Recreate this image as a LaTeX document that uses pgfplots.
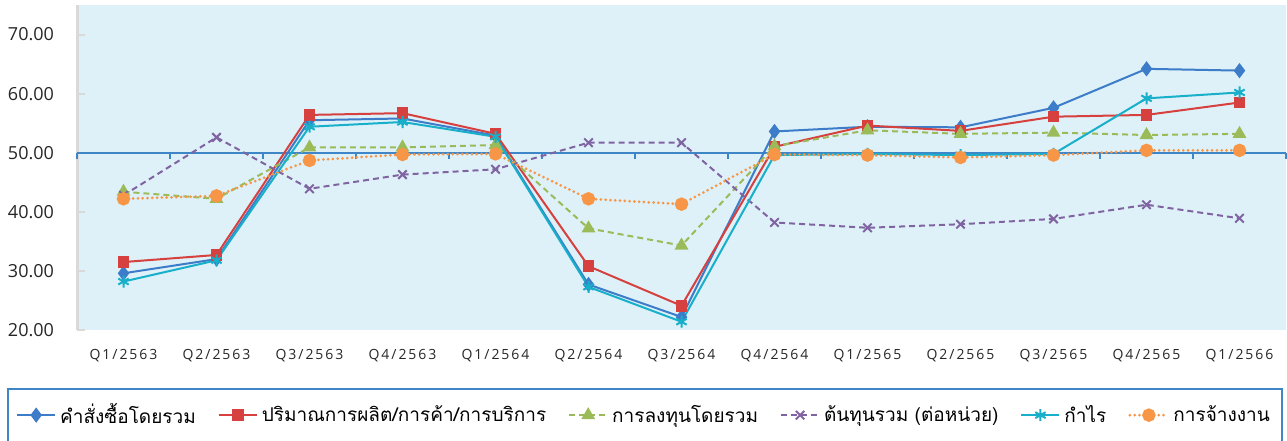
\documentclass[border=0pt]{standalone}
\usepackage{pgfplots}
\pgfplotsset{compat=1.18}
\usepackage{fontspec}
\setmainfont{Open Sans}
\newfontfamily\thaifont[Script=Thai]{Loma}
\newfontfamily\qfont[LetterSpace=14]{Open Sans}

\definecolor{sBlue}{HTML}{3D7CC9}
\definecolor{sRed}{HTML}{D6403E}
\definecolor{sGreen}{HTML}{9BBB59}
\definecolor{sPurple}{HTML}{8064A2}
\definecolor{sCyan}{HTML}{17AFC9}
\definecolor{sOrange}{HTML}{F79646}
\definecolor{bgBlue}{HTML}{DEF1F8}
\definecolor{refLine}{HTML}{3F86C8}

\begin{document}
\begin{tikzpicture}
\begin{axis}[
    at={(38.5pt,55pt)}, anchor=south west,
    scale only axis,
    width=604.5pt, height=162.5pt,
    xmin=-0.5, xmax=12.5,
    ymin=20, ymax=75,
    xtick={0,...,12},
    xticklabels={Q1/2563,Q2/2563,Q3/2563,Q4/2563,Q1/2564,Q2/2564,Q3/2564,Q4/2564,Q1/2565,Q2/2565,Q3/2565,Q4/2565,Q1/2566},
    ytick={20,30,40,50,60,70},
    yticklabel={\pgfmathprintnumber[fixed,fixed zerofill,precision=2]{\tick}},
    /pgf/number format/assume math mode=true,
    axis line style={draw=none},
    axis background/.style={fill=bgBlue},
    tick pos=left,
    major x tick style={draw=none},
    major y tick style={black!15, line width=1pt},
    major tick length=4pt,
    yticklabel style={font=\fontsize{9}{10}\selectfont, text=black!85, xshift=-8pt},
    xticklabel style={font=\qfont\fontsize{7}{8}\selectfont, text=black!85, yshift=-6pt},
    clip=false,
    legend columns=6,
    legend style={draw=none, fill=none, at={(0.4698,-0.262)}, anchor=center,
        font=\thaifont\fontsize{9.5}{11}\selectfont,
        /tikz/every even column/.append style={column sep=9pt}},
    legend image code/.code={\draw[mark repeat=2,mark phase=2] plot coordinates {(0pt,0pt)(9.5pt,0pt)(19pt,0pt)};},
]
% left axis line
\draw[black!15, line width=1.5pt] (axis cs:-0.5,20) -- (axis cs:-0.5,75);
% 50 reference line with ticks
\draw[refLine, line width=1pt] (axis cs:-0.5,50) -- (axis cs:12.5,50);
\pgfplotsinvokeforeach{-0.5,0.5,...,12.5}{
  \draw[refLine, line width=1pt] (axis cs:#1,50) -- ([yshift=-3pt]axis cs:#1,50);
}

\addplot[sBlue, line width=1pt, mark=diamond*, mark size=3pt] coordinates {
 (0,29.6) (1,32.0) (2,55.5) (3,55.8) (4,52.9) (5,27.7) (6,22.2)
 (7,53.6) (8,54.4) (9,54.3) (10,57.6) (11,64.2) (12,63.9)
};
\addplot[sRed, line width=1pt, mark=square*, mark size=2.4pt] coordinates {
 (0,31.5) (1,32.7) (2,56.4) (3,56.7) (4,53.2) (5,30.8) (6,24.1)
 (7,51.0) (8,54.6) (9,53.7) (10,56.1) (11,56.4) (12,58.5)
};
\addplot[sGreen, line width=1pt, dash pattern=on 3pt off 2pt, mark=triangle*, mark size=3pt, mark options={solid}] coordinates {
 (0,43.4) (1,42.2) (2,50.9) (3,50.9) (4,51.3) (5,37.2) (6,34.3)
 (7,51.1) (8,53.8) (9,53.2) (10,53.4) (11,53.0) (12,53.2)
};
\addplot[sPurple, line width=1pt, dash pattern=on 3pt off 2pt, mark=x, mark size=3pt, mark options={solid}] coordinates {
 (0,42.8) (1,52.6) (2,43.9) (3,46.3) (4,47.2) (5,51.7) (6,51.7)
 (7,38.2) (8,37.3) (9,37.9) (10,38.8) (11,41.2) (12,38.9)
};
\addplot[sCyan, line width=1pt, mark=asterisk, mark size=3pt] coordinates {
 (0,28.2) (1,31.8) (2,54.4) (3,55.2) (4,52.7) (5,27.3) (6,21.4)
 (7,49.6) (8,49.8) (9,49.6) (10,49.8) (11,59.2) (12,60.2)
};
\addplot[sOrange, line width=1.5pt, line cap=round, dash pattern=on 0pt off 2.4pt, mark=*, mark size=2.6pt, mark options={solid}] coordinates {
 (0,42.2) (1,42.7) (2,48.7) (3,49.7) (4,49.8) (5,42.2) (6,41.3)
 (7,49.7) (8,49.6) (9,49.2) (10,49.6) (11,50.4) (12,50.4)
};
\legend{คำสั่งซื้อโดยรวม, ปริมาณการผลิต/การค้า/การบริการ, การลงทุนโดยรวม, ต้นทุนรวม (ต่อหน่วย), กำไร, การจ้างงาน}
\end{axis}
% legend frame
\draw[refLine, line width=1pt] (4pt,-2pt) -- (4pt,25.5pt) -- (641pt,25.5pt) -- (641pt,-2pt);
\pgfresetboundingbox
\path (0,0) rectangle (643.5pt,220pt);
\end{tikzpicture}
\end{document}
